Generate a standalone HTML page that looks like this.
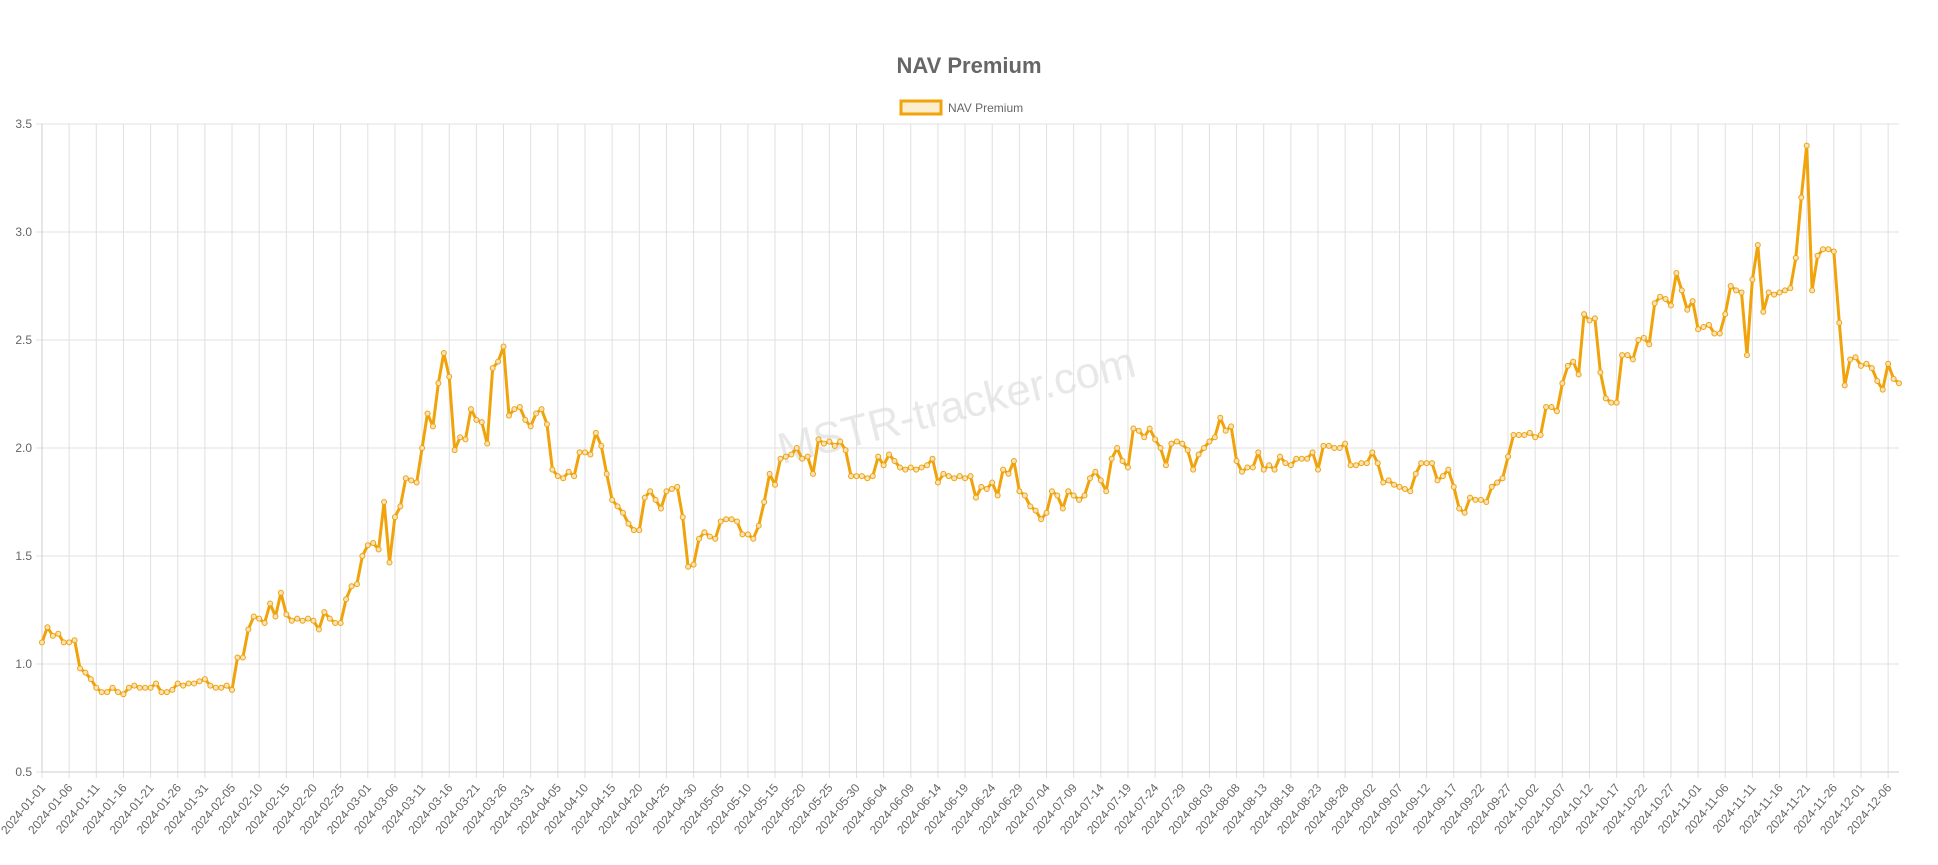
<!DOCTYPE html>
<html><head><meta charset="utf-8"><style>
body{margin:0;background:#fff;font-family:"Liberation Sans",sans-serif}
svg{display:block}
</style></head><body>
<svg id="chart" width="1938" height="865" viewBox="0 0 1938 865" xmlns="http://www.w3.org/2000/svg">
<text x="969" y="73" text-anchor="middle" font-size="22" font-weight="bold" fill="#666">NAV Premium</text>
<g>
<rect x="901" y="101" width="40" height="13" fill="rgba(240,163,10,0.2)" stroke="#f0a30a" stroke-width="3"/>
<text x="948" y="112" font-size="12" fill="#666">NAV Premium</text>
</g>
<text x="960" y="420" text-anchor="middle" font-size="44" fill="#000" fill-opacity="0.09" transform="rotate(-14 960 420)">MSTR-tracker.com</text>
<g id="grid"></g><g id="axes"></g><g id="series"></g>
</svg>
<script>
const startDate = "2024-01-01";
const yTicks = [0.5, 1.0, 1.5, 2.0, 2.5, 3.0, 3.5];
const navPremium = [
1.10,1.17,1.13,1.14,1.10,1.10,1.11,0.98,0.96,0.93,0.89,0.87,0.87,0.89,0.87,0.86,0.89,0.90,0.89,0.89,0.89,0.91,0.87,0.87,0.88,0.91,0.90,0.91,0.91,0.92,0.93,
0.90,0.89,0.89,0.90,0.88,1.03,1.03,1.16,1.22,1.21,1.19,1.28,1.22,1.33,1.23,1.20,1.21,1.20,1.21,1.20,1.16,1.24,1.21,1.19,1.19,1.30,1.36,1.37,1.50,
1.55,1.56,1.53,1.75,1.47,1.68,1.73,1.86,1.85,1.84,2.00,2.16,2.10,2.30,2.44,2.33,1.99,2.05,2.04,2.18,2.13,2.12,2.02,2.37,2.40,2.47,2.15,2.18,2.19,2.13,2.10,
2.16,2.18,2.11,1.90,1.87,1.86,1.89,1.87,1.98,1.98,1.97,2.07,2.01,1.88,1.76,1.73,1.70,1.65,1.62,1.62,1.77,1.80,1.76,1.72,1.80,1.81,1.82,1.68,1.45,1.46,
1.58,1.61,1.59,1.58,1.66,1.67,1.67,1.66,1.60,1.60,1.58,1.64,1.75,1.88,1.83,1.95,1.96,1.97,2.00,1.95,1.96,1.88,2.04,2.02,2.03,2.01,2.03,1.99,1.87,1.87,1.87,
1.86,1.87,1.96,1.92,1.97,1.94,1.91,1.90,1.91,1.90,1.91,1.92,1.95,1.84,1.88,1.87,1.86,1.87,1.86,1.87,1.77,1.82,1.81,1.84,1.78,1.90,1.88,1.94,1.80,1.78,
1.73,1.71,1.67,1.70,1.80,1.78,1.72,1.80,1.78,1.76,1.78,1.86,1.89,1.85,1.80,1.95,2.00,1.94,1.91,2.09,2.08,2.05,2.09,2.04,2.00,1.92,2.02,2.03,2.02,1.99,1.90,
1.97,2.00,2.03,2.05,2.14,2.08,2.10,1.94,1.89,1.91,1.91,1.98,1.90,1.92,1.90,1.96,1.93,1.92,1.95,1.95,1.95,1.98,1.90,2.01,2.01,2.00,2.00,2.02,1.92,1.92,1.93,
1.93,1.98,1.93,1.84,1.85,1.83,1.82,1.81,1.80,1.88,1.93,1.93,1.93,1.85,1.87,1.90,1.82,1.72,1.70,1.77,1.76,1.76,1.75,1.82,1.84,1.86,1.96,2.06,2.06,2.06,
2.07,2.05,2.06,2.19,2.19,2.17,2.30,2.38,2.40,2.34,2.62,2.59,2.60,2.35,2.23,2.21,2.21,2.43,2.43,2.41,2.50,2.51,2.48,2.67,2.70,2.69,2.66,2.81,2.73,2.64,2.68,
2.55,2.56,2.57,2.53,2.53,2.62,2.75,2.73,2.72,2.43,2.78,2.94,2.63,2.72,2.71,2.72,2.73,2.74,2.88,3.16,3.40,2.73,2.89,2.92,2.92,2.91,2.58,2.29,2.41,2.42,
2.38,2.39,2.37,2.31,2.27,2.39,2.32,2.30
];
const NS="http://www.w3.org/2000/svg";
const L=42,R=1899,T=124,B=772,yMin=0.5,yMax=3.5;
const n=navPremium.length;
function xPos(i){return L+i*(R-L)/(n-1);}
function yPos(v){return B-(v-yMin)/(yMax-yMin)*(B-T);}
function mk(tag,attrs,parent){const e=document.createElementNS(NS,tag);for(const k in attrs)e.setAttribute(k,attrs[k]);parent.appendChild(e);return e;}
const grid=document.getElementById('grid'),axes=document.getElementById('axes'),series=document.getElementById('series');
const d0=new Date(startDate+"T00:00:00Z");
function label(i){const d=new Date(d0.getTime()+i*86400000);return d.toISOString().slice(0,10);}
yTicks.forEach(v=>{
  const y=yPos(v);
  const ln=mk('line',{x1:L-6,x2:R,y1:y,y2:y,stroke:'#e0e0e0','stroke-width':1},grid);
  
  
  const t=mk('text',{x:L-10,y:y+4,'text-anchor':'end','font-size':12,fill:'#666'},axes);
  t.textContent=v.toFixed(1);
  
  
});
for(let i=0;i<n;i+=5){
  const x=xPos(i);
  const ln=mk('line',{x1:x,x2:x,y1:T,y2:B+6,stroke:'#e0e0e0','stroke-width':1},grid);
  
  
  const t=mk('text',{x:x+4,y:B+16,'text-anchor':'end','font-size':12,fill:'#666',transform:`rotate(-50 ${x+4} ${B+16})`},axes);
  t.textContent=label(i);
  
  
}
const ax1=mk('line',{x1:L,x2:L,y1:T,y2:B,stroke:'#ccc'},axes);


const ax2=mk('line',{x1:L,x2:R,y1:B,y2:B,stroke:'#ccc'},axes);


const pts=navPremium.map((v,i)=>xPos(i).toFixed(1)+','+yPos(v).toFixed(1)).join(' ');
const line=mk('polyline',{points:pts,fill:'none',stroke:'#f0a30a','stroke-width':3,'stroke-linejoin':'round'},series);


navPremium.forEach((v,i)=>{
  const c=mk('circle',{cx:xPos(i),cy:yPos(v),r:2.5,fill:'#f6e3bd',stroke:'#f0a30a','stroke-width':1},series);
  
  
});
</script>
</body></html>
